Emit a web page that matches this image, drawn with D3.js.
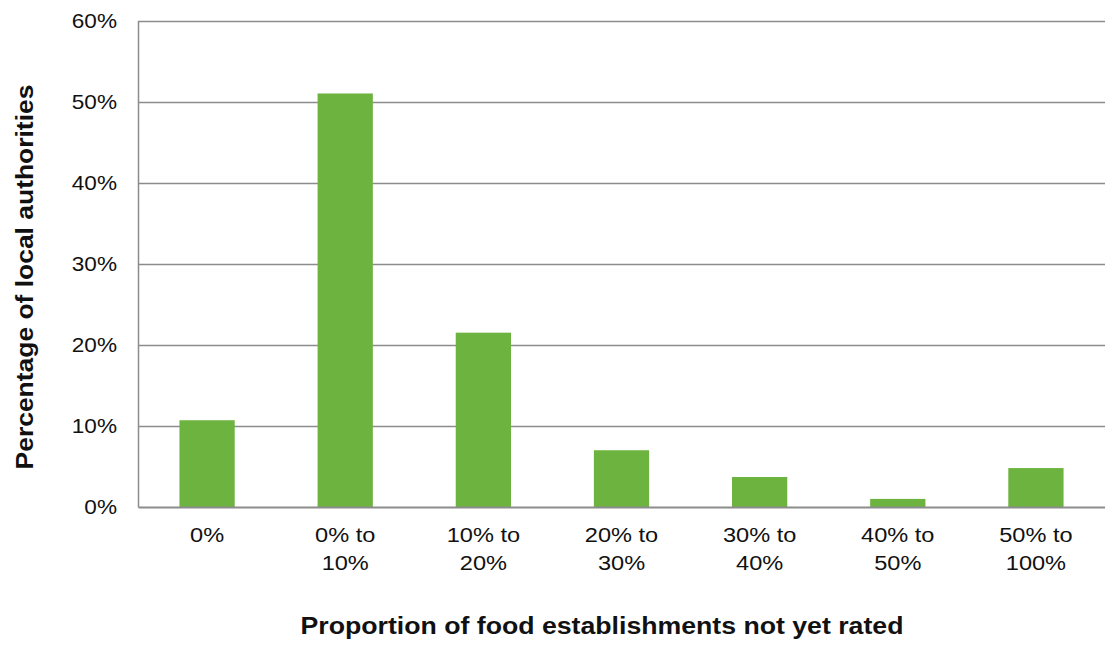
<!DOCTYPE html>
<html>
<head>
<meta charset="utf-8">
<script src="https://cdn.jsdelivr.net/npm/d3@7"></script>
<style>
  html, body { margin: 0; padding: 0; background: #fff; }
  svg { display: block; font-family: "Liberation Sans", Arial, sans-serif; }
</style>
</head>
<body>
<svg id="chart" width="1105" height="645"></svg>
<script>
// Share of local authorities by proportion of establishments not yet rated
const categories = [["0%"], ["0% to", "10%"], ["10% to", "20%"], ["20% to", "30%"], ["30% to", "40%"], ["40% to", "50%"], ["50% to", "100%"]];
const values = [10.7, 51.0, 21.5, 7.0, 3.7, 1.0, 4.8];
const yTicks = [0, 10, 20, 30, 40, 50, 60];

const svg = d3.select("#chart");
const width = 1105;
const plotLeft = 138, plotTop = 20.5, plotBottom = 507;
const stretch = 1.15;           // glyphs are drawn slightly wide
const fontFamily = "Liberation Sans, Arial, sans-serif";

const x = d3.scaleBand()
  .domain(d3.range(categories.length))
  .range([plotLeft, width])
  .paddingInner(0.6)
  .paddingOuter(0.3);

const y = d3.scaleLinear().domain([0, 60]).range([plotBottom, plotTop]);

// horizontal gridlines
svg.append("g")
  .selectAll("line")
  .data(yTicks.filter(d => d > 0))
  .join("line")
  .attr("x1", plotLeft).attr("x2", width)
  .attr("y1", d => Math.round(y(d)) + 0.5).attr("y2", d => Math.round(y(d)) + 0.5)
  .attr("stroke", "#8c8c8c").attr("stroke-width", 1.3);

// bars
svg.append("g")
  .selectAll("rect")
  .data(values)
  .join("rect")
  .attr("x", (d, i) => x(i))
  .attr("width", x.bandwidth())
  .attr("y", d => y(d))
  .attr("height", d => y(0) - y(d))
  .attr("fill", "#6db33f");

// y axis
const yAxis = svg.append("g")
  .attr("transform", `translate(${plotLeft},0)`)
  .call(d3.axisLeft(y).tickValues(yTicks).tickSize(0).tickFormat(""));
yAxis.select(".domain").attr("stroke", "#8c8c8c").attr("stroke-width", 1.5);
yAxis.selectAll(".tick")
  .append("text")
  .attr("transform", `translate(-21,0) scale(1.13,1)`)
  .attr("text-anchor", "end")
  .attr("dy", "0.34em")
  .attr("font-size", 20)
  .attr("font-family", fontFamily)
  .attr("fill", "#111")
  .text(d => d + "%");

// x axis
const xAxis = svg.append("g")
  .attr("transform", `translate(0,${plotBottom})`)
  .call(d3.axisBottom(x).tickSize(0).tickFormat(""));
xAxis.select(".domain").attr("stroke", "#8c8c8c").attr("stroke-width", 2);

xAxis.selectAll(".tick")
  .append("text")
  .attr("transform", `scale(${stretch},1)`)
  .attr("text-anchor", "middle")
  .attr("font-size", 20.5)
  .attr("fill", "#111")
  .attr("font-family", fontFamily)
  .each(function(d) {
    const t = d3.select(this);
    categories[d].forEach((line, k) => {
      t.append("tspan").attr("x", 0).attr("y", 35 + k * 28).text(line);
    });
  });

// axis titles
svg.append("text")
  .attr("transform", `translate(602,634) scale(1.16,1)`)
  .attr("text-anchor", "middle")
  .attr("font-size", 23).attr("font-weight", "bold").attr("fill", "#111")
  .text("Proportion of food establishments not yet rated");

svg.append("text")
  .attr("transform", `translate(33,277) rotate(-90) scale(1.15,1)`)
  .attr("text-anchor", "middle")
  .attr("font-size", 23).attr("font-weight", "bold").attr("fill", "#111")
  .text("Percentage of local authorities");
</script>
</body>
</html>
